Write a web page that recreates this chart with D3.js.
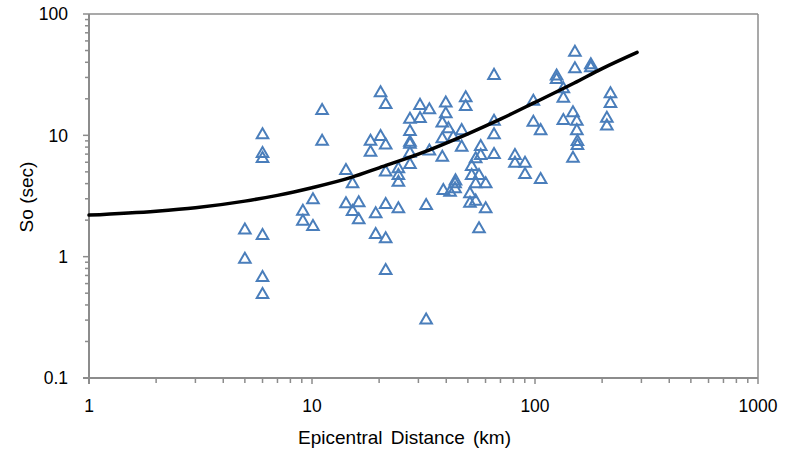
<!DOCTYPE html>
<html>
<head>
<meta charset="utf-8">
<script src="https://cdn.jsdelivr.net/npm/d3@7"></script>
<style>
  body { margin: 0; background: #fff; }
  text { font-family: "Liberation Sans", Arial, sans-serif; fill: #000; }
</style>
</head>
<body>
<div id="chart"></div>
<script>
// Observed points: epicentral distance (km) and So (sec)
const distance = [
  5, 5,
  6, 6, 6, 6, 6, 6,
  9.1, 9.1, 10.1, 10.1, 11.1, 11.1,
  14.2, 14.2, 15.2, 15.2, 16.2, 16.2,
  18.3, 18.3, 19.3, 19.3, 20.3, 20.3,
  21.4, 21.4, 21.4, 21.4, 21.4, 21.4,
  24.4, 24.4, 24.4, 24.4,
  27.5, 27.5, 27.5, 27.5, 27.5, 27.5,
  30.5, 30.5, 32.5, 32.5, 33.6, 33.6,
  38.4, 38.4, 38.4, 38.8, 39.8, 39.8, 40.9, 41.6, 43,
  43.8, 43.8, 44, 46.9, 46.9, 48.9, 48.9,
  51.1, 51.1, 52, 52, 54.2, 54.2, 54.2, 56.1, 56.1, 57.1, 57.1,
  60.1, 60.1, 65.5, 65.5, 65.5, 65.5,
  81.3, 81.3, 90.2, 90.2, 98.3, 98.3, 106, 106,
  125, 125, 134, 134, 134, 148, 148, 151, 151,
  154, 154, 155, 155, 178, 178, 210, 210, 218, 218
];
const soSec = [
  1.65, 0.95,
  10.1, 7.07, 6.43, 1.49, 0.67, 0.486,
  2.36, 1.95, 2.93, 1.77, 16, 8.9,
  5.12, 2.72, 3.97, 2.35, 2.77, 2.01,
  8.9, 7.24, 2.25, 1.52, 22.4, 9.75,
  17.9, 8.3, 4.96, 2.68, 1.40, 0.767,
  5.28, 4.65, 4.1, 2.47,
  13.5, 10.7, 8.75, 8.4, 7.1, 5.74,
  17.6, 13.7, 2.63, 0.30, 16.2, 7.4,
  12.6, 9.34, 6.59, 3.5, 18.4, 15, 11.3, 3.39, 9.6,
  3.97, 3.61, 4.2, 10.9, 7.97, 20.3, 17.2,
  3.29, 2.75, 5.52, 4.65, 6.39, 3.97, 2.86, 4.65, 1.69, 8.07, 6.8,
  3.97, 2.47, 31.1, 13, 10.1, 6.93,
  6.8, 5.88, 5.88, 4.74, 19, 12.8, 10.9, 4.31,
  30.7, 28.8, 24.1, 20.2, 13.2, 15.3, 6.46, 48.3, 35.3,
  13, 10.9, 8.87, 8.22, 38, 36, 13.8, 11.9, 21.9, 18.2
];

// Model curve
const curveDistance = [1, 2, 3, 5, 7, 10, 15, 20, 30, 50, 70, 100, 150, 200, 287];
const curveSo = [2.2, 2.37, 2.53, 2.87, 3.2, 3.7, 4.5, 5.4, 7.0, 10.3, 13.6, 18.7, 27, 35.5, 48.3];

const xTicks = [1, 10, 100, 1000];
const yTicks = [0.1, 1, 10, 100];

const W = 786, H = 452;
const margin = { top: 14, right: 28, bottom: 74, left: 89 };
const width = W - margin.left - margin.right;
const height = H - margin.top - margin.bottom;
const axisColor = "#8c8c8c";

const svg = d3.select("#chart").append("svg")
  .attr("width", W)
  .attr("height", H);

const g = svg.append("g")
  .attr("transform", `translate(${margin.left},${margin.top})`);

const x = d3.scaleLog().domain([1, 1000]).range([0, width]);
const y = d3.scaleLog().domain([0.1, 100]).range([height, 0]);

// minor ticks for log axes
const minor = (lo, hi) => {
  const out = [];
  for (let p = lo; p < hi; p *= 10)
    for (let k = 1; k <= 10; k++) out.push(+(p * k).toPrecision(6));
  return Array.from(new Set(out));
};

// top and right frame
g.append("line").attr("x1", 0).attr("x2", width).attr("y1", 0).attr("y2", 0)
  .attr("stroke", axisColor).attr("stroke-width", 1.5);
g.append("line").attr("x1", width).attr("x2", width).attr("y1", 0).attr("y2", height)
  .attr("stroke", axisColor).attr("stroke-width", 1.5);

// x axis
const xAxis = g.append("g").attr("transform", `translate(0,${height})`);
xAxis.append("line").attr("x1", -6).attr("x2", width).attr("stroke", axisColor).attr("stroke-width", 2);
xAxis.selectAll(".minor").data(minor(1, 1000)).join("line")
  .attr("x1", d => x(d)).attr("x2", d => x(d))
  .attr("y1", 0).attr("y2", d => xTicks.includes(d) ? 6 : 5)
  .attr("stroke", axisColor).attr("stroke-width", 1.5);
xAxis.selectAll(".lbl").data(xTicks).join("text")
  .attr("x", d => x(d)).attr("y", 34)
  .attr("text-anchor", "middle")
  .style("font-size", "17.5px")
  .text(d => d);

// y axis
const yAxis = g.append("g");
yAxis.append("line").attr("y1", 0).attr("y2", height + 6).attr("stroke", axisColor).attr("stroke-width", 2);
yAxis.selectAll(".minor").data(minor(0.1, 100)).join("line")
  .attr("y1", d => y(d)).attr("y2", d => y(d))
  .attr("x1", d => yTicks.includes(d) ? -6 : -4).attr("x2", 0)
  .attr("stroke", axisColor).attr("stroke-width", 1.5);
yAxis.selectAll(".lbl").data(yTicks).join("text")
  .attr("x", -21).attr("y", d => y(d)).attr("dy", "0.36em")
  .attr("text-anchor", "end")
  .style("font-size", "17.5px")
  .text(d => d);

// axis titles
svg.append("text")
  .attr("x", margin.left + x(26)).attr("y", 444)
  .attr("text-anchor", "middle")
  .style("font-size", "19px").style("word-spacing", "3px")
  .text("Epicentral Distance (km)");
svg.append("text")
  .attr("transform", `translate(33,197) rotate(-90)`)
  .attr("text-anchor", "middle")
  .style("font-size", "19px")
  .text("So (sec)");

// scatter points
const points = distance.map((d, i) => ({ d, s: soSec[i] }));
const tri = d3.symbol(d3.symbolTriangle, 58);
g.selectAll(".pt").data(points).join("path")
  .attr("class", "pt")
  .attr("d", tri)
  .attr("transform", p => `translate(${x(p.d)},${y(p.s)})`)
  .attr("fill", "none")
  .attr("stroke", "#4a7ebb")
  .attr("stroke-width", 2);

// model curve
const curvePts = curveDistance.map((d, i) => [d, curveSo[i]]);
g.append("path")
  .datum(curvePts)
  .attr("fill", "none")
  .attr("stroke", "#000")
  .attr("stroke-width", 3.5)
  .attr("stroke-linecap", "round")
  .attr("d", d3.line().x(p => x(p[0])).y(p => y(p[1])).curve(d3.curveMonotoneX));
</script>
</body>
</html>
